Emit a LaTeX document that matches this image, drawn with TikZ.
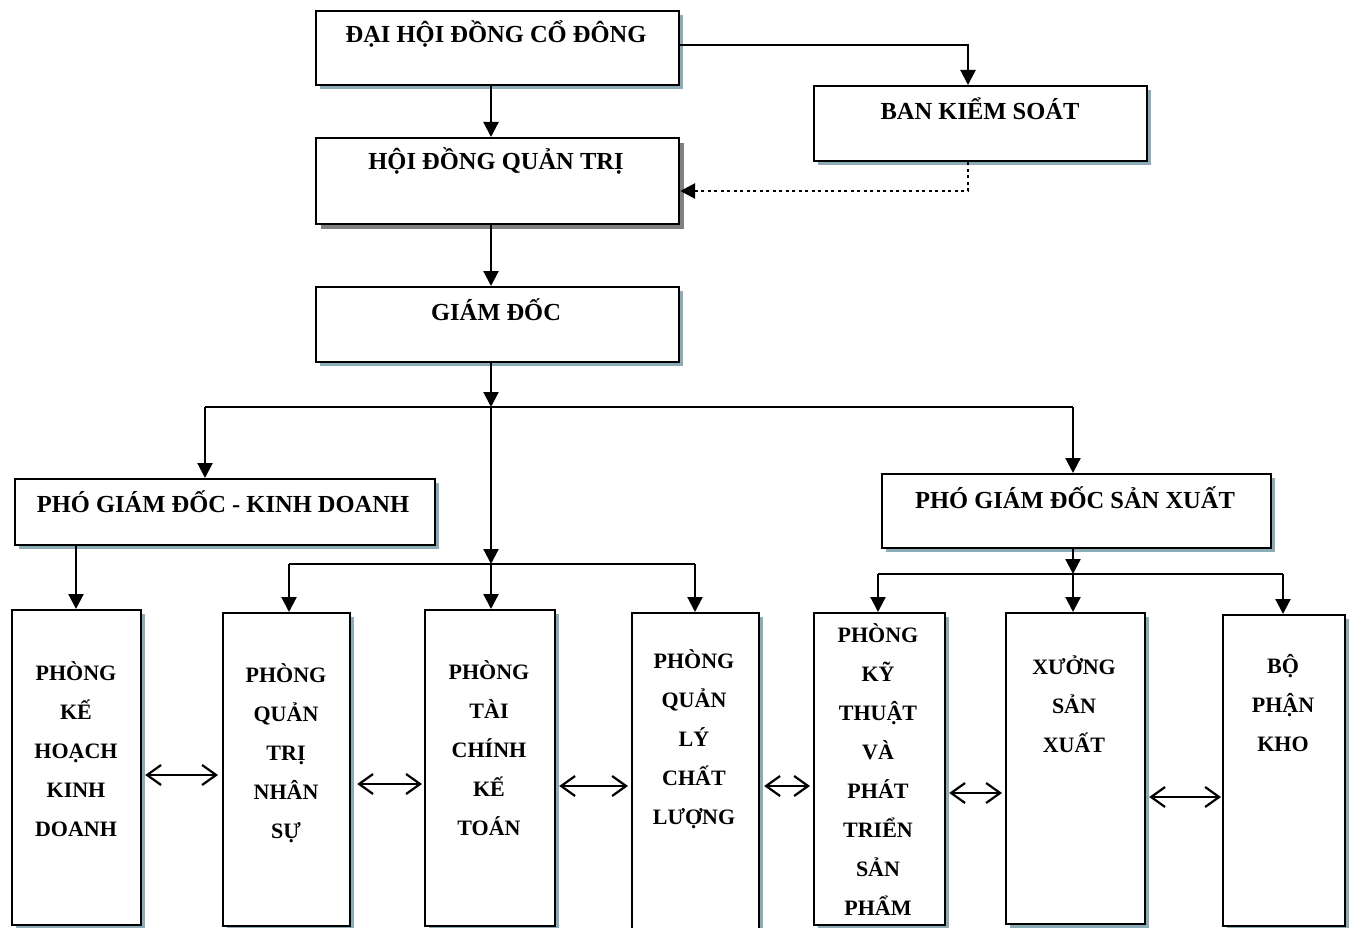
\documentclass[tikz,border=0pt]{standalone}
\usepackage{fontspec}
\setmainfont{Liberation Serif}
\usetikzlibrary{arrows.meta,shadows}
\definecolor{shcol}{RGB}{140,172,184}
\definecolor{shgrey}{RGB}{128,128,128}
\begin{document}
\begin{tikzpicture}[x=1pt,y=-1pt,
  box/.style={draw=black, line width=2.2pt, fill=white, inner sep=0pt, anchor=north west,
    drop shadow={shadow xshift=4pt, shadow yshift=-4pt, fill=shcol, opacity=1}},
  greybox/.style={draw=black, line width=2.2pt, fill=white, inner sep=0pt, anchor=north west,
    drop shadow={shadow xshift=5pt, shadow yshift=-5pt, fill=shgrey, opacity=1}},
  ttl/.style={font=\fontsize{24.5}{28}\selectfont\bfseries, anchor=base, inner sep=0pt},
  col/.style={font=\fontsize{22}{39}\selectfont\bfseries, anchor=base, align=center, inner sep=0pt},
  arr/.style={line width=2.2pt, -{Triangle[length=15pt,width=15pt]}},
  ln/.style={line width=2.2pt},
  dbl/.style={line width=2.2pt, {Straight Barb[length=14pt,width=20pt,line width=2.2pt]}-{Straight Barb[length=14pt,width=20pt,line width=2.2pt]}},
  dots/.style={line width=2.8pt, dash pattern=on 3pt off 3.5pt, -{Triangle[length=15pt,width=15pt]}}
]
\useasboundingbox (0,0) rectangle (1351,928);

% top boxes
\node[box, minimum width=363pt, minimum height=74pt] (dh) at (315,10) {};
\node[box, minimum width=333pt, minimum height=75pt] (bks) at (813,85) {};
\node[greybox, minimum width=363pt, minimum height=86pt] (hd) at (315,137) {};
\node[box, minimum width=363pt, minimum height=75pt] (gd) at (315,286) {};
\node[box, minimum width=420pt, minimum height=66pt] (pkd) at (14,478) {};
\node[box, minimum width=389pt, minimum height=74pt] (psx) at (881,473) {};

\node[ttl] (dh-t) at (496,43) {ĐẠI HỘI ĐỒNG CỔ ĐÔNG};
\node[ttl] (bks-t) at (980,120) {BAN KIỂM SOÁT};
\node[ttl] (hd-t) at (496,170) {HỘI ĐỒNG QUẢN TRỊ};
\node[ttl] (gd-t) at (496,320) {GIÁM ĐỐC};
\node[ttl] (pkd-t) at (223,512) {PHÓ GIÁM ĐỐC - KINH DOANH};
\node[ttl] (psx-t) at (1075,508) {PHÓ GIÁM ĐỐC SẢN XUẤT};

% bottom boxes
\node[box, minimum width=129pt, minimum height=315pt] (kh) at (11,609) {};
\node[box, minimum width=127pt, minimum height=313pt] (ns) at (222,612) {};
\node[box, minimum width=130pt, minimum height=316pt] (tc) at (424,609) {};
\node[box, minimum width=127pt, minimum height=330pt] (cl) at (631,612) {};
\node[box, minimum width=131pt, minimum height=312pt] (kt) at (813,612) {};
\node[box, minimum width=139pt, minimum height=311pt] (xs) at (1005,612) {};
\node[box, minimum width=122pt, minimum height=311pt] (kho) at (1222,614) {};

% anchor=base of a multi-line node is the baseline of its last line
\node[col] (kh-t) at (76,836) {PHÒNG\\KẾ\\HOẠCH\\KINH\\DOANH};
\node[col] (ns-t) at (286,838) {PHÒNG\\QUẢN\\TRỊ\\NHÂN\\SỰ};
\node[col] (tc-t) at (489,835) {PHÒNG\\TÀI\\CHÍNH\\KẾ\\TOÁN};
\node[col] (cl-t) at (694,824) {PHÒNG\\QUẢN\\LÝ\\CHẤT\\LƯỢNG};
\node[col] (kt-t) at (878,915) {PHÒNG\\KỸ\\THUẬT\\VÀ\\PHÁT\\TRIỂN\\SẢN\\PHẨM};
\node[col] (xs-t) at (1074,752) {XƯỞNG\\SẢN\\XUẤT};
\node[col] (kho-t) at (1283,751) {BỘ\\PHẬN\\KHO};

% helper coordinates
\coordinate (xa) at (491,0);
\coordinate (xb) at (968,0);
\coordinate (row1) at (0,45);
\coordinate (row2) at (0,191);
\coordinate (bus1) at (0,407);
\coordinate (bus2) at (0,564);
\coordinate (bus3) at (0,574);
\coordinate (xk) at (205,0);
\coordinate (xs2) at (1073,0);
\coordinate (xkh) at (76,0);
\coordinate (xns) at (289,0);
\coordinate (xcl) at (695,0);
\coordinate (xkt) at (878,0);
\coordinate (xkho) at (1283,0);

% top connectors
\draw[arr] (dh.east |- row1) -| (xb |- bks.north);
\draw[arr] (xa |- dh.south) -- (xa |- hd.north);
\draw[dots] (xb |- bks.south) |- (hd.east |- row2);
\draw[arr] (xa |- hd.south) -- (xa |- gd.north);
\draw[arr] (xa |- gd.south) -- (xa |- bus1);
\draw[ln] (xk |- bus1) -- (xs2 |- bus1);
\draw[arr] (xk |- bus1) -- (xk |- pkd.north);
\draw[arr] (xs2 |- bus1) -- (xs2 |- psx.north);
\draw[arr] (xa |- bus1) -- (xa |- bus2);
\draw[ln] (xns |- bus2) -- (xcl |- bus2);
\draw[arr] (xns |- bus2) -- (xns |- ns.north);
\draw[arr] (xa |- bus2) -- (xa |- tc.north);
\draw[arr] (xcl |- bus2) -- (xcl |- cl.north);
\draw[arr] (xkh |- pkd.south) -- (xkh |- kh.north);
\draw[arr] (xs2 |- psx.south) -- (xs2 |- bus3);
\draw[ln] (xkt |- bus3) -- (xkho |- bus3);
\draw[arr] (xkt |- bus3) -- (xkt |- kt.north);
\draw[arr] (xs2 |- bus3) -- (xs2 |- xs.north);
\draw[arr] (xkho |- bus3) -- (xkho |- kho.north);

% double arrows
\coordinate (d1) at (0,775);
\coordinate (d2) at (0,784);
\coordinate (d3) at (0,786);
\coordinate (d4) at (0,786);
\coordinate (d5) at (0,793);
\coordinate (d6) at (0,797);
\draw[dbl] ([xshift=3pt]kh.east |- d1) -- ([xshift=-4pt]ns.west |- d1);
\draw[dbl] ([xshift=6pt]ns.east |- d2) -- ([xshift=-2pt]tc.west |- d2);
\draw[dbl] ([xshift=3pt]tc.east |- d3) -- ([xshift=-3pt]cl.west |- d3);
\draw[dbl] ([xshift=4pt]cl.east |- d4) -- ([xshift=-3pt]kt.west |- d4);
\draw[dbl] ([xshift=3pt]kt.east |- d5) -- ([xshift=-3pt]xs.west |- d5);
\draw[dbl] ([xshift=3pt]xs.east |- d6) -- ([xshift=-1pt]kho.west |- d6);
\end{tikzpicture}
\end{document}
